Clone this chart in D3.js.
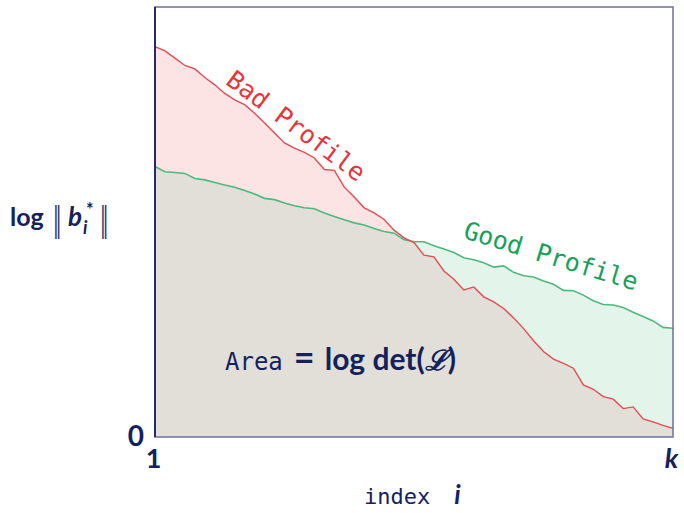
<!DOCTYPE html>
<html>
<head>
<meta charset="utf-8">
<script src="https://cdn.jsdelivr.net/npm/d3@7"></script>
<style>
  body { margin: 0; background: #fff; }
  svg { display: block; }
  .sans { font-family: Lato, "Open Sans", sans-serif; font-weight: 700; fill: #13225c; }
  .mono { font-family: "DejaVu Sans Mono", "Liberation Mono", monospace; }
</style>
</head>
<body>
<svg id="chart" width="684" height="513"></svg>
<script>
// log ||b_i*||, one value per index i = 1..k
const badProfile = [
  9.08, 8.98, 8.81, 8.64, 8.56, 8.36, 8.19, 7.99, 7.84, 7.73,
  7.53, 7.30, 7.07, 6.84, 6.72, 6.62, 6.49, 6.22, 6.20, 5.81,
  5.58, 5.33, 5.21, 5.06, 4.81, 4.63, 4.52, 4.23, 4.19, 3.86,
  3.67, 3.42, 3.49, 3.26, 3.14, 2.99, 2.77, 2.52, 2.24, 1.99,
  1.81, 1.71, 1.60, 1.21, 1.11, 0.94, 0.88, 0.66, 0.70, 0.42,
  0.35, 0.27, 0.20
];
const goodProfile = [
  6.29, 6.17, 6.15, 6.13, 6.01, 5.98, 5.92, 5.86, 5.81, 5.73,
  5.65, 5.55, 5.52, 5.44, 5.38, 5.33, 5.31, 5.21, 5.13, 5.05,
  4.98, 4.93, 4.85, 4.78, 4.74, 4.59, 4.54, 4.54, 4.45, 4.37,
  4.29, 4.17, 4.12, 4.05, 3.95, 3.98, 3.83, 3.75, 3.72, 3.63,
  3.55, 3.41, 3.40, 3.30, 3.17, 3.08, 3.07, 3.01, 2.90, 2.80,
  2.70, 2.55, 2.53
];
const k = badProfile.length;
const indices = d3.range(1, k + 1);
const xTicks = [1, k];
const xTickLabels = ['1', 'k'];
const yTicks = [0];
const labels = { bad: 'Bad Profile', good: 'Good Profile' };

const svg = d3.select('#chart');
const plotLeft = 155, plotRight = 673, plotTop = 7, plotBottom = 437;

const x = d3.scaleLinear().domain([1, k]).range([plotLeft, plotRight]);
const y = d3.scaleLinear().domain([0, 10]).range([plotBottom, plotTop]);

const rows = indices.map((i, n) => ({ i, bad: badProfile[n], good: goodProfile[n] }));

const areaOf = (fn) => d3.area().x((d) => x(d.i)).y0(y(0)).y1((d) => y(fn(d)));
const lineOf = (fn) => d3.line().x((d) => x(d.i)).y((d) => y(fn(d)));

const plot = svg.append('g');
plot.append('path').attr('d', areaOf((d) => d.bad)(rows)).attr('fill', '#fce4e5');
plot.append('path').attr('d', areaOf((d) => d.good)(rows)).attr('fill', '#e3f4ea');
plot.append('path').attr('d', areaOf((d) => Math.min(d.bad, d.good))(rows)).attr('fill', '#e2dfd9');

plot.append('path').attr('d', lineOf((d) => d.good)(rows))
  .attr('fill', 'none').attr('stroke', '#4cb97e').attr('stroke-width', 1.6);
plot.append('path').attr('d', lineOf((d) => d.bad)(rows))
  .attr('fill', 'none').attr('stroke', '#e84a4f').attr('stroke-width', 1.4);

// frame
svg.append('rect')
  .attr('x', plotLeft).attr('y', plotTop)
  .attr('width', plotRight - plotLeft).attr('height', plotBottom - plotTop)
  .attr('fill', 'none').attr('stroke', '#6a70a0').attr('stroke-width', 1.5);
svg.append('line')
  .attr('x1', plotLeft).attr('x2', plotLeft).attr('y1', plotTop).attr('y2', plotBottom)
  .attr('stroke', '#1b2160').attr('stroke-width', 1.8);

// axes (labels only)
const xAxis = svg.append('g')
  .attr('transform', `translate(0,${plotBottom})`)
  .call(d3.axisBottom(x).tickValues(xTicks).tickSize(0).tickPadding(12)
    .tickFormat((d, n) => xTickLabels[n]));
xAxis.select('.domain').remove();
xAxis.selectAll('text').attr('class', 'sans').attr('font-size', 27)
  .attr('fill', '#13225c')
  .attr('font-style', (d, n) => n === 1 ? 'italic' : 'normal')
  .attr('dx', -2);

const yAxis = svg.append('g')
  .attr('transform', `translate(${plotLeft},0)`)
  .call(d3.axisLeft(y).tickValues(yTicks).tickSize(0).tickPadding(11).tickFormat(d3.format('d')));
yAxis.select('.domain').remove();
yAxis.selectAll('text').attr('class', 'sans').attr('font-size', 28).attr('fill', '#13225c');

// profile labels
svg.append('text').attr('class', 'mono')
  .attr('transform', 'translate(296,126) rotate(36.8)')
  .attr('text-anchor', 'middle').attr('dominant-baseline', 'central')
  .attr('font-size', 25).attr('fill', '#e8343a').text(labels.bad);
svg.append('text').attr('class', 'mono')
  .attr('transform', 'translate(551,256) rotate(17)')
  .attr('text-anchor', 'middle').attr('dominant-baseline', 'central')
  .attr('font-size', 25).attr('fill', '#17a158').text(labels.good);

// area formula
const formula = svg.append('text').attr('y', 370).attr('fill', '#13225c');
formula.append('tspan').attr('x', 225).attr('class', 'mono').attr('font-size', 24).text('Area');
formula.append('tspan').attr('class', 'sans').attr('font-size', 36).attr('dx', 11).text('=');
formula.append('tspan').attr('class', 'sans').attr('font-size', 30).attr('dx', 10).text('log det(');
formula.append('tspan').attr('class', 'sans').attr('font-size', 28)
  .attr('font-family', '"DejaVu Serif", serif').attr('font-style', 'italic').text('ℒ');
formula.append('tspan').attr('class', 'sans').attr('font-size', 30).text(')');

// y label: log ||b_i*||
svg.append('text').attr('class', 'sans').attr('x', 10).attr('y', 226)
  .attr('font-size', 25).text('log');
const bi = svg.append('text').attr('y', 226).attr('fill', '#13225c');
bi.append('tspan').attr('x', 68).attr('class', 'sans').attr('font-size', 26)
  .attr('font-style', 'italic').text('b');
bi.append('tspan').attr('x', 86).attr('dy', -10).attr('class', 'sans').attr('font-size', 18).text('*');
bi.append('tspan').attr('x', 83).attr('dy', 18).attr('class', 'sans').attr('font-size', 18)
  .attr('font-style', 'italic').text('i');

const bars = [53, 100];
svg.selectAll('text.norm').data(bars).join('text')
  .attr('class', 'norm')
  .attr('transform', (d) => `translate(${d},231) scale(0.5,1)`)
  .attr('font-size', 34).attr('font-family', '"DejaVu Sans", sans-serif')
  .attr('fill', '#2a3570')
  .text('‖');

// x label
const xl = svg.append('text').attr('y', 504).attr('fill', '#13225c');
xl.append('tspan').attr('x', 364).attr('class', 'mono').attr('font-size', 22).text('index');
xl.append('tspan').attr('class', 'sans').attr('font-size', 26).attr('dx', 24)
  .attr('font-style', 'italic').text('i');
</script>
</body>
</html>
